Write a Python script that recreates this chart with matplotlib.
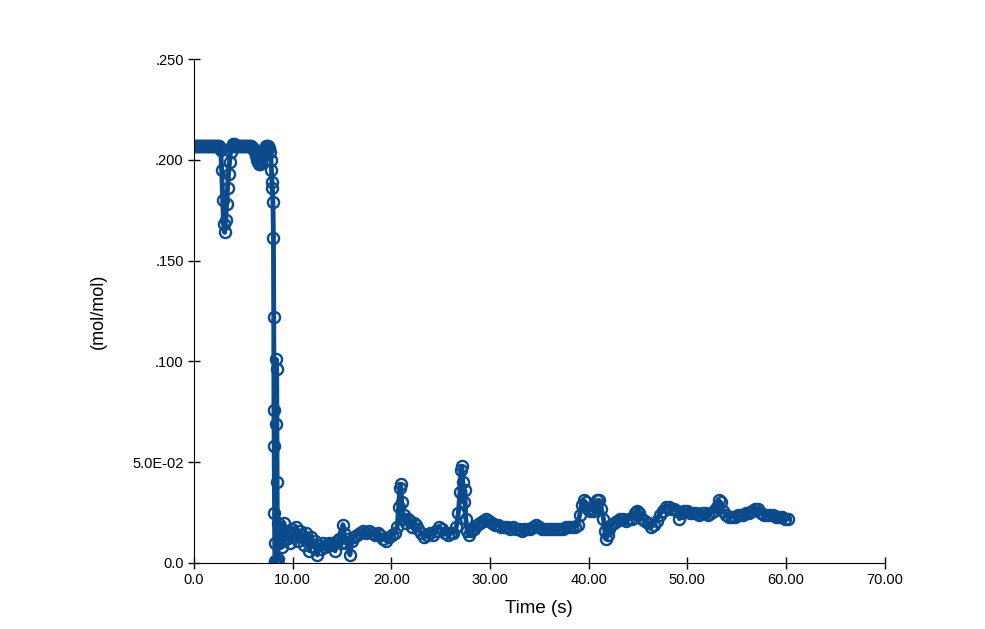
import matplotlib
matplotlib.use('Agg')
import matplotlib.pyplot as plt

plt.rcParams['font.family'] = ['Liberation Sans', 'DejaVu Sans']

# Time (s) and mole fraction (mol/mol)
time_s = [
    0.0, 0.1, 0.2, 0.3, 0.4, 0.5, 0.6, 0.7, 0.8, 0.9, 1.0, 1.1, 1.2, 1.3, 1.4, 1.5,
    1.6, 1.7, 1.8, 1.9, 2.0, 2.1, 2.2, 2.3, 2.4, 2.5, 2.6, 2.7,
    2.8, 2.9, 3.0, 3.1, 3.2, 3.3, 3.4, 3.5, 3.6, 3.7, 3.8,
    3.9, 4.0, 4.1, 4.2, 4.3, 4.4, 4.5, 4.6, 4.7, 4.8, 4.9, 5.0, 5.1, 5.2, 5.3, 5.4,
    5.5, 5.6, 5.7, 5.8, 5.9, 6.0, 6.1, 6.2, 6.3, 6.4, 6.5, 6.6, 6.7, 6.8, 6.9, 7.0,
    7.1, 7.2, 7.3, 7.4, 7.5, 7.6,
    7.7, 7.8, 7.85, 7.9, 7.95, 8.0, 8.05, 8.08, 8.1, 8.12, 8.15, 8.18, 8.2, 8.25,
    8.3, 8.35, 8.38, 8.42, 8.45, 8.5, 8.55, 8.6,
    8.7, 8.9, 9.1, 9.3, 9.5, 9.7, 9.9, 10.1, 10.3, 10.5, 10.7, 10.9, 11.1, 11.3, 11.5,
    11.7, 11.9, 12.1, 12.3, 12.5, 12.7, 12.9, 13.1, 13.3, 13.5, 13.7, 13.9, 14.1, 14.3,
    14.5, 14.7, 14.9, 15.1, 15.2, 15.4, 15.6, 15.8, 16.0, 16.2, 16.5, 16.8, 17.1, 17.4,
    17.7, 18.0, 18.3, 18.6, 18.9, 19.2, 19.5, 19.8, 20.1, 20.4, 20.6, 20.75, 20.85, 20.95,
    21.05, 21.15, 21.3, 21.5, 21.7, 21.9, 22.1, 22.3, 22.5, 22.7, 23.0, 23.3, 23.6, 23.9,
    24.2, 24.5, 24.8, 25.1, 25.4, 25.7, 26.0, 26.3, 26.6, 26.8, 26.95, 27.05, 27.15, 27.25,
    27.35, 27.45, 27.55, 27.7, 27.9,
    28.1, 28.4, 28.7, 29.0, 29.3, 29.6, 29.9, 30.2, 30.5, 30.8, 31.1, 31.4, 31.7, 32.0,
    32.3, 32.6, 32.9, 33.2, 33.5, 33.8, 34.1, 34.4, 34.7, 35.0, 35.3, 35.6, 35.9, 36.2,
    36.5, 36.8, 37.1, 37.4, 37.7, 38.0, 38.3, 38.6, 38.9, 39.1, 39.3, 39.5, 39.7, 39.9,
    40.1, 40.3, 40.5, 40.7, 40.9, 41.1, 41.3, 41.5, 41.65, 41.8, 41.95, 42.1, 42.3, 42.6,
    42.9, 43.2, 43.5, 43.8, 44.1, 44.4, 44.7, 44.9, 45.1, 45.4, 45.7, 46.0, 46.3, 46.6,
    46.9, 47.2, 47.5, 47.8, 48.1, 48.4, 48.7, 49.0, 49.2, 49.4, 49.7, 50.0, 50.3, 50.6,
    50.9, 51.2, 51.5, 51.8, 52.1, 52.4, 52.7, 53.0, 53.2, 53.4, 53.6, 53.9, 54.2, 54.5,
    54.8, 55.1, 55.4, 55.7, 56.0, 56.3, 56.6, 56.9, 57.2, 57.5, 57.8, 58.1, 58.4, 58.7,
    59.0, 59.3, 59.6, 59.9, 60.2,
]
mol_frac = [
    0.207, 0.207, 0.207, 0.207, 0.207, 0.207, 0.207, 0.207, 0.207, 0.207, 0.207, 0.207, 0.207, 0.207, 0.207, 0.207,
    0.207, 0.207, 0.207, 0.207, 0.207, 0.207, 0.207, 0.207, 0.207, 0.207, 0.206, 0.205,
    0.195, 0.180, 0.168, 0.164, 0.170, 0.178, 0.186, 0.193, 0.199, 0.204, 0.207,
    0.208, 0.208, 0.207, 0.207, 0.207, 0.207, 0.207, 0.207, 0.207, 0.207, 0.207, 0.207, 0.207, 0.207, 0.207, 0.207,
    0.207, 0.207, 0.207, 0.207, 0.206, 0.206, 0.205, 0.204, 0.202, 0.200, 0.199, 0.198, 0.198, 0.199, 0.201, 0.203,
    0.205, 0.206, 0.207, 0.207, 0.207, 0.206,
    0.204, 0.200, 0.195, 0.189, 0.186, 0.179, 0.161, 0.122, 0.076, 0.058, 0.025, 0.010, 0.001, 0.000,
    0.069, 0.101, 0.096, 0.040, 0.001, 0.002, 0.020, 0.010,
    0.018, 0.008, 0.020, 0.012, 0.016, 0.010, 0.017, 0.013, 0.018, 0.011, 0.016, 0.014, 0.009, 0.015, 0.012,
    0.006, 0.013, 0.008, 0.011, 0.004, 0.009, 0.007, 0.010, 0.008, 0.009, 0.010, 0.009, 0.010, 0.006,
    0.011, 0.012, 0.010, 0.019, 0.015, 0.010, 0.012, 0.004, 0.011, 0.013, 0.014, 0.015, 0.016, 0.015,
    0.016, 0.015, 0.014, 0.015, 0.014, 0.012, 0.011, 0.013, 0.014, 0.015, 0.018, 0.028, 0.037, 0.039,
    0.030, 0.022, 0.024, 0.020, 0.022, 0.021, 0.018, 0.020, 0.019, 0.017, 0.015, 0.013, 0.014, 0.015,
    0.014, 0.016, 0.018, 0.017, 0.015, 0.014, 0.015, 0.015, 0.018, 0.025, 0.035, 0.046, 0.048, 0.040,
    0.030, 0.036, 0.022, 0.016, 0.014,
    0.016, 0.017, 0.019, 0.020, 0.021, 0.022, 0.021, 0.020, 0.019, 0.019, 0.018, 0.018, 0.018, 0.017,
    0.018, 0.017, 0.017, 0.016, 0.017, 0.017, 0.017, 0.018, 0.019, 0.018, 0.017, 0.017, 0.017, 0.017,
    0.017, 0.017, 0.017, 0.017, 0.018, 0.018, 0.018, 0.018, 0.019, 0.024, 0.029, 0.031, 0.030, 0.027,
    0.026, 0.027, 0.026, 0.028, 0.031, 0.031, 0.027, 0.022, 0.016, 0.012, 0.014, 0.017, 0.019, 0.020,
    0.021, 0.022, 0.022, 0.021, 0.022, 0.022, 0.025, 0.026, 0.025, 0.022, 0.021, 0.020, 0.018, 0.019,
    0.021, 0.024, 0.026, 0.028, 0.028, 0.027, 0.027, 0.026, 0.022, 0.025, 0.026, 0.026, 0.025, 0.025,
    0.025, 0.024, 0.025, 0.025, 0.024, 0.025, 0.026, 0.028, 0.031, 0.030, 0.026, 0.024, 0.023, 0.023,
    0.023, 0.024, 0.024, 0.024, 0.025, 0.025, 0.026, 0.027, 0.027, 0.025, 0.024, 0.024, 0.024, 0.024,
    0.023, 0.023, 0.023, 0.022, 0.022,
]

x_ticks = [0, 10, 20, 30, 40, 50, 60, 70]
x_tick_labels = ['0.0', '10.00', '20.00', '30.00', '40.00', '50.00', '60.00', '70.00']
y_ticks = [0.0, 0.05, 0.10, 0.15, 0.20, 0.25]
y_tick_labels = ['0.0', '5.0E-02', '.100', '.150', '.200', '.250']

blue = '#0b4a8b'

fig = plt.figure(figsize=(9.85, 6.29), dpi=100)
ax = fig.add_axes([0.197, 0.105, 0.701, 0.801])

ax.plot(time_s, mol_frac, color=blue, linewidth=3.5, marker='o', markersize=8,
        markerfacecolor='none', markeredgecolor=blue, markeredgewidth=1.7)

ax.set_xlim(0, 70)
ax.set_ylim(0, 0.25)
ax.set_xticks(x_ticks)
ax.set_xticklabels(x_tick_labels)
ax.set_yticks(y_ticks)
ax.set_yticklabels(y_tick_labels)

ax.spines['top'].set_visible(False)
ax.spines['right'].set_visible(False)
ax.tick_params(direction='inout', length=9, width=1, labelsize=10.5, pad=3)

ax.set_xlabel('Time (s)', fontsize=13.5, labelpad=9)
ax.set_ylabel('(mol/mol)', fontsize=13, labelpad=18)

fig.savefig('out.png', dpi=100)
